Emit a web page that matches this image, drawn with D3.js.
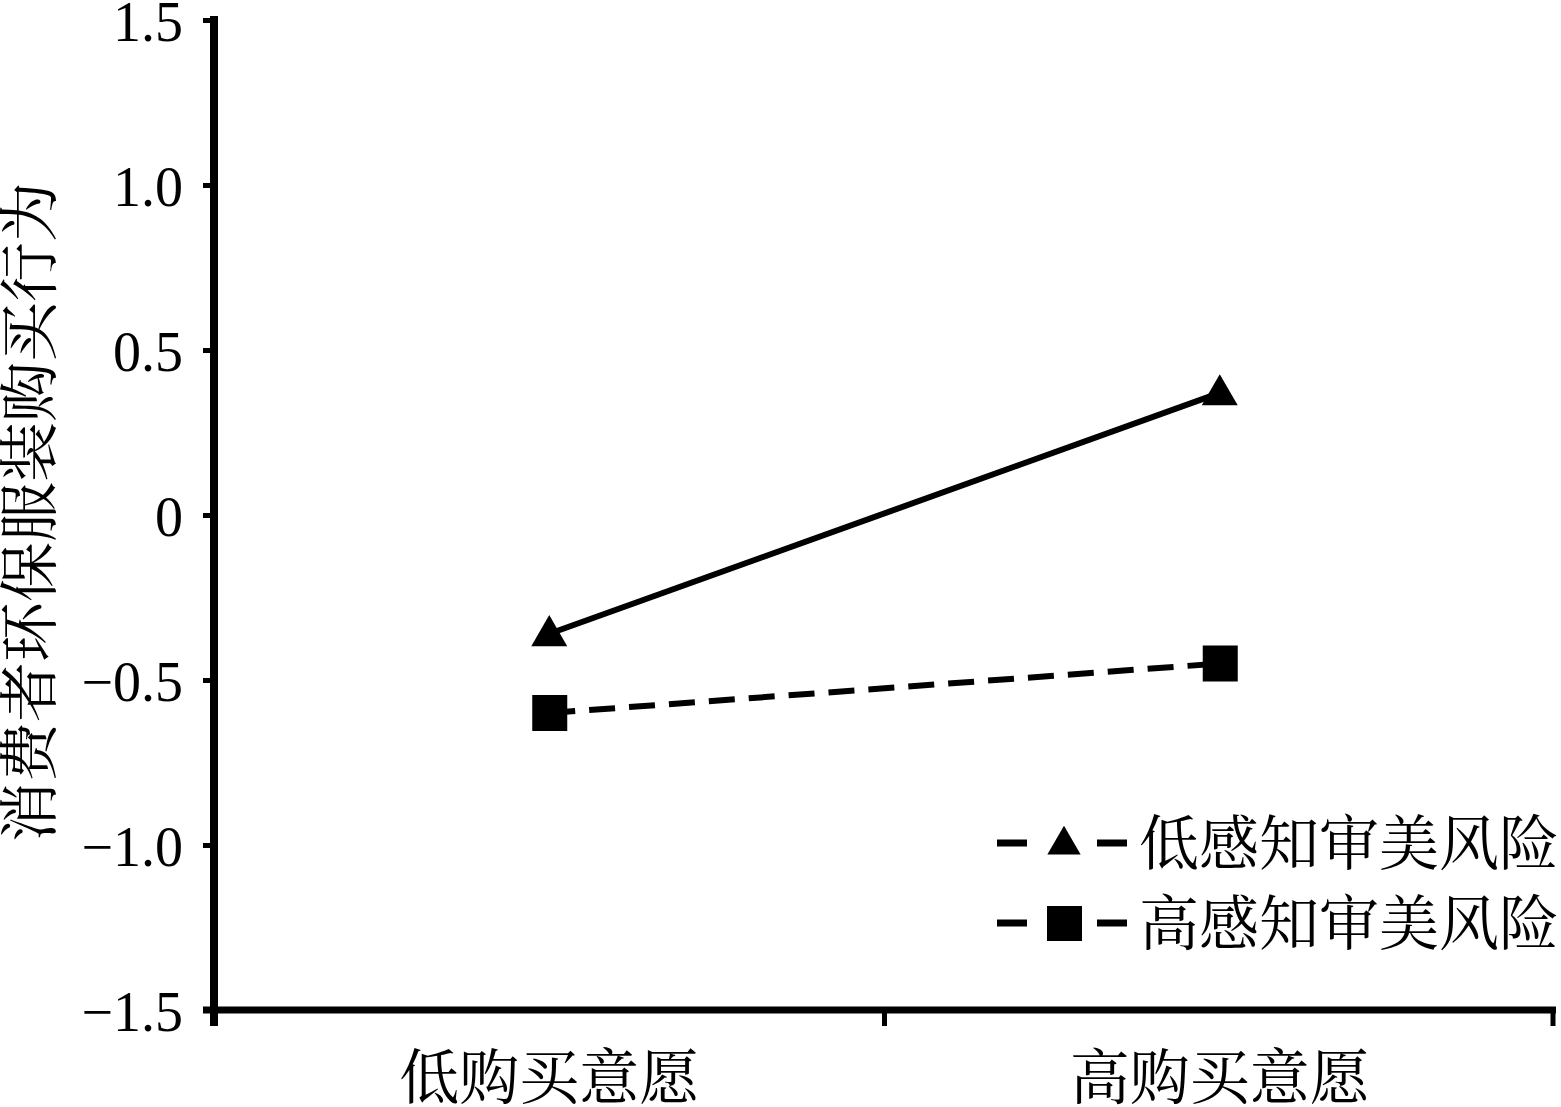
<!DOCTYPE html>
<html><head><meta charset="utf-8">
<script src="https://cdn.jsdelivr.net/npm/d3@7"></script>
<style>body{margin:0;background:#fff}svg{display:block}</style>
</head><body>
<script>
const categories = ["低购买意愿", "高购买意愿"];
const seriesNames = ["低感知审美风险", "高感知审美风险"];
const lowRisk = [-0.36, 0.37];
const highRisk = [-0.60, -0.45];
const yTicks = [-1.5, -1.0, -0.5, 0, 0.5, 1.0, 1.5];
const yTitle = "消费者环保服装购买行为";

const W = 1561, H = 1107;
const cjk = '"Noto Serif CJK SC","Noto Sans CJK SC",serif';
const svg = d3.select("body").append("svg").attr("width", W).attr("height", H);

const x = d3.scaleBand().domain(categories).range([214, 1555]);
const y = d3.scaleLinear().domain([-1.5, 1.5]).range([1010, 20]);

// Y axis
const yAxis = svg.append("g").attr("transform", "translate(214,0)")
  .call(d3.axisLeft(y).tickValues(yTicks).tickSize(11).tickPadding(20)
    .tickFormat(d => d === 0 ? "0" : d3.format(".1f")(d)));
yAxis.select(".domain").attr("stroke", "#000").attr("stroke-width", 8)
  .attr("d", "M0,16V1026");
yAxis.selectAll(".tick line").attr("stroke", "#000").attr("stroke-width", 5);
yAxis.selectAll(".tick text").attr("font-family", '"Liberation Serif","Times New Roman",serif')
  .attr("font-size", 56).attr("fill", "#000").attr("dy", "0.36em");

// X axis
const xAxis = svg.append("g").attr("transform", "translate(0,1010)");
xAxis.append("line").attr("x1", 203).attr("x2", 1556).attr("y1", 0).attr("y2", 0)
  .attr("stroke", "#000").attr("stroke-width", 7);
const edges = [x.range()[0] + x.bandwidth(), x.range()[1] - 2];
xAxis.selectAll("line.tk").data(edges).join("line").attr("class", "tk")
  .attr("x1", d => d).attr("x2", d => d).attr("y1", 0).attr("y2", 16)
  .attr("stroke", "#000").attr("stroke-width", 5);
xAxis.selectAll("text").data(categories).join("text")
  .attr("x", d => x(d) + x.bandwidth() / 2).attr("y", 67).attr("dy", "0.36em")
  .attr("text-anchor", "middle").attr("font-family", cjk).attr("font-size", 60)
  .attr("fill", "#000").text(d => d);

// Y title
svg.append("text").attr("transform", "translate(30,512) rotate(-90)")
  .attr("text-anchor", "middle").attr("dy", "0.35em")
  .attr("font-family", cjk).attr("font-size", 60).attr("fill", "#000").text(yTitle);

const cx = d => x(d) + x.bandwidth() / 2;
const line = d3.line().x(d => cx(d.c)).y(d => y(d.v));
const s1 = categories.map((c, i) => ({c, v: lowRisk[i]}));
const s2 = categories.map((c, i) => ({c, v: highRisk[i]}));

svg.append("path").datum(s1).attr("d", line).attr("fill", "none")
  .attr("stroke", "#000").attr("stroke-width", 6);
svg.append("path").datum(s2).attr("d", line).attr("fill", "none")
  .attr("stroke", "#000").attr("stroke-width", 6).attr("stroke-dasharray", "26,14");

const tri = d3.symbol().type(d3.symbolTriangle).size(560);
svg.selectAll("path.tri").data(s1).join("path").attr("class", "tri")
  .attr("d", tri).attr("transform", d => `translate(${cx(d.c)},${y(d.v) + 2})`).attr("fill", "#000");
svg.selectAll("rect.sq").data(s2).join("rect").attr("class", "sq")
  .attr("x", d => cx(d.c) - 17).attr("y", d => y(d.v) - 18).attr("width", 35).attr("height", 36)
  .attr("fill", "#000");

// Legend
const leg = svg.append("g");
const rows = [{name: seriesNames[0], y: 843, type: "tri"}, {name: seriesNames[1], y: 923, type: "sq"}];
rows.forEach(r => {
  const g = leg.append("g").attr("transform", `translate(0,${r.y})`);
  [[997, 1027], [1097, 1127]].forEach(([a, b]) => g.append("line").attr("x1", a).attr("x2", b)
    .attr("y1", 0).attr("y2", 0).attr("stroke", "#000").attr("stroke-width", 7));
  if (r.type === "tri") g.append("path").attr("d", d3.symbol().type(d3.symbolTriangle).size(480))
    .attr("transform", "translate(1064,2)").attr("fill", "#000");
  else g.append("rect").attr("x", 1047).attr("y", -17).attr("width", 35).attr("height", 35).attr("fill", "#000");
  g.append("text").attr("x", 1139).attr("y", 0).attr("dy", "0.36em").attr("font-family", cjk)
    .attr("font-size", 60).attr("fill", "#000").text(r.name);
});
</script>
</body></html>
